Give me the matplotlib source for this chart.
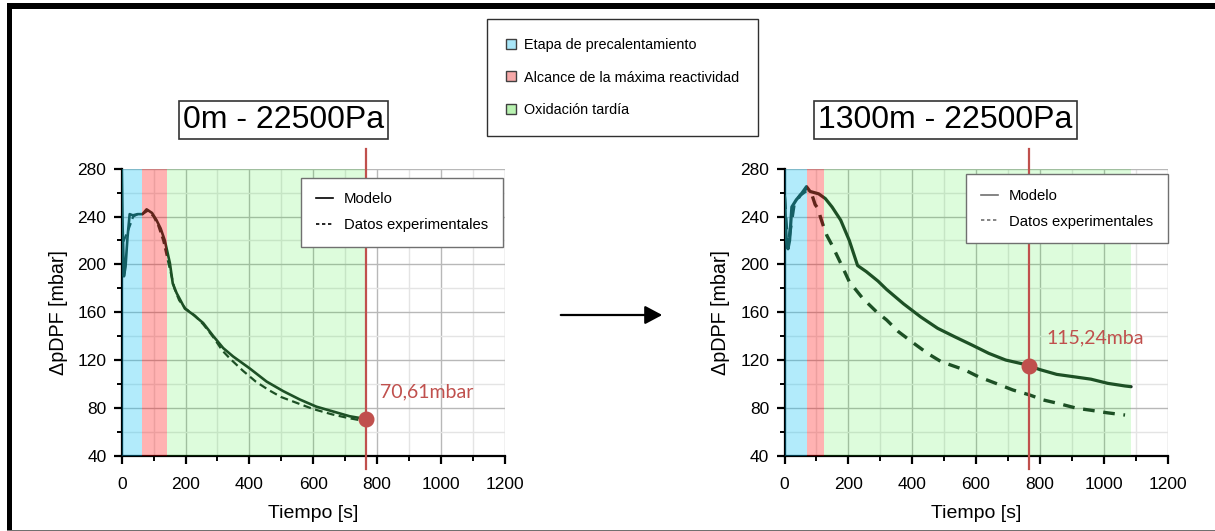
import matplotlib
matplotlib.use('Agg')
import matplotlib.pyplot as plt
from matplotlib.lines import Line2D
from matplotlib.patches import Rectangle, FancyArrowPatch
from matplotlib.ticker import MultipleLocator

plt.rcParams['font.family'] = ['Liberation Sans', 'DejaVu Sans']
LEGFONT = ['Liberation Sans', 'DejaVu Sans']

# ---------------- data ----------------
phase_labels = ['Etapa de precalentamiento', 'Alcance de la máxima reactividad', 'Oxidación tardía']
phase_colors = ['#00c0f5', '#ff0000', '#1ceb16']
phase_alphas = [0.30, 0.30, 0.15]
phase_legend_colors = ['#a8e6f8', '#f6a8a8', '#b8f2b0']

series_labels = ['Modelo', 'Datos experimentales']

left_title = '0m - 22500Pa'
left_phase_edges = [0, 64, 142, 766]
left_model_t = [0, 3, 7, 12, 18, 25, 35, 50, 65, 78, 95, 109, 122, 135, 151, 160, 172, 198,
                224, 255, 287, 318, 349, 401, 454, 506, 558, 610, 662, 714, 766]
left_model_y = [279, 230, 190, 198, 222, 242, 241, 242, 242, 246, 243, 237, 230, 220, 201, 184,
                176, 163, 158, 151, 140, 130, 123, 113, 102, 94, 87, 81, 77, 73, 70.6]
left_exp_t = [5, 21, 36, 50, 65, 82, 100, 115, 130, 143, 152, 165, 180, 200, 230, 255, 270, 290,
              315, 340, 380, 420, 460, 500, 550, 600, 660, 710, 760]
left_exp_y = [219, 229, 240, 242, 242, 245, 240, 232, 220, 205, 195, 180, 170, 163, 157, 150,
              145, 138, 128, 121, 111, 102, 95, 89, 84, 79, 74.5, 71.5, 69]
left_marker_t = 766
left_marker_y = 70.61
left_marker_text = '70,61mbar'

right_title = '1300m - 22500Pa'
right_phase_edges = [0, 70, 125, 1087]
right_model_t = [0, 5, 11, 16, 23, 37, 53, 69, 80, 107, 128, 149, 176, 203, 229, 256, 293, 320,
                 373, 427, 480, 533, 587, 640, 693, 747, 767, 800, 853, 907, 960, 1013, 1067, 1086]
right_model_y = [257, 223, 213, 220, 248, 254, 259, 265, 261, 259, 255, 248, 237, 220, 199, 194,
                 186, 179, 167, 156, 146.5, 139.5, 132.6, 125.6, 120, 116.7, 115.2, 112, 108, 106,
                 104, 100.5, 98.3, 97.7]
right_exp_t = [0, 10, 30, 50, 70, 85, 96, 107, 112, 122, 133, 149, 176, 203, 245, 288, 320, 357,
               405, 448, 491, 565, 608, 677, 715, 768, 811, 853, 917, 960, 1008, 1067]
right_exp_y = [256, 214, 250, 258, 262, 259, 250, 246, 240, 232, 224, 216, 201, 185.5, 171.6,
               160.4, 153.5, 143.7, 134, 125.6, 118.6, 111.7, 106, 99, 95, 90.8, 86.6, 84, 79.6,
               78, 76, 74]
right_marker_t = 767
right_marker_y = 115.24
right_marker_text = '115,24mba'

x_label = 'Tiempo [s]'
y_label = 'ΔpDPF [mbar]'

# ---------------- figure ----------------
W, H = 1215, 531
fig = plt.figure(figsize=(W / 100, H / 100), dpi=100)

LINE = '#1e3628'
RED = '#c0504d'


def fx(px):
    return px / W


def fy(py):
    return 1 - py / H


def panel(left_px, model_t, model_y, exp_t, exp_y, edges, mt, my, mtext, text_xy,
          model_lw, exp_lw, exp_dash, leg_anchor, leg_handle_color, title, title_x):
    ax = fig.add_axes([fx(left_px), fy(455.7), 383.0 / W, 287.0 / H])
    ax.set_xlim(0, 1200)
    ax.set_ylim(40, 280)
    ax.xaxis.set_major_locator(MultipleLocator(200))
    ax.xaxis.set_minor_locator(MultipleLocator(100))
    ax.yaxis.set_major_locator(MultipleLocator(40))
    ax.yaxis.set_minor_locator(MultipleLocator(20))
    ax.grid(which='major', color='#b8b8b8', lw=1.0, zorder=0)
    ax.grid(which='minor', color='#e4e4e4', lw=1.0, zorder=0)
    ax.set_axisbelow(True)
    for s in ['top', 'right']:
        ax.spines[s].set_visible(False)
    for s in ['left', 'bottom']:
        ax.spines[s].set_linewidth(1.6)
        ax.spines[s].set_color('black')
    ax.tick_params(which='major', direction='out', length=6, width=1.6, labelsize=12.5, pad=5)
    ax.tick_params(which='minor', direction='out', length=3.5, width=1.4)
    ax.tick_params(axis='x', which='major', pad=9)

    ax.plot(model_t, model_y, color=LINE, lw=model_lw, zorder=3, solid_capstyle='round')
    ax.plot(exp_t, exp_y, color=LINE, lw=exp_lw, dashes=exp_dash, zorder=3)

    for i in range(3):
        ax.axvspan(edges[i], edges[i + 1], color=phase_colors[i], alpha=phase_alphas[i],
                   lw=0, zorder=4)

    ax.axvline(mt, ymin=-0.045, ymax=1.07, color=RED, lw=1.6, clip_on=False, zorder=6)
    ax.plot([mt], [my], 'o', color=RED, ms=10.5, zorder=7, clip_on=False)
    ax.text(text_xy[0], text_xy[1], mtext, color=RED, fontsize=14, family=['Lato', 'DejaVu Sans'],
            ha='left', va='center', zorder=7)

    ax.set_xlabel(x_label, fontsize=14, labelpad=10)
    ax.set_ylabel(y_label, fontsize=14.2, labelpad=7)

    handles = [Line2D([], [], color=leg_handle_color, lw=1.2),
               Line2D([], [], color=leg_handle_color, lw=1.2, dashes=(2, 1.6))]
    leg = ax.legend(handles, series_labels, loc='upper left', bbox_to_anchor=leg_anchor,
                    borderaxespad=0, fancybox=False, framealpha=1, edgecolor='#707070',
                    prop={'family': LEGFONT, 'size': 10.7}, handlelength=1.1, handletextpad=0.75,
                    borderpad=1.0, labelspacing=0.8)
    leg.get_frame().set_linewidth(1.0)
    leg.set_zorder(10)

    fig.text(fx(title_x), fy(120), title, fontsize=23, ha='center', va='center',
             bbox=dict(boxstyle='square,pad=0.12', fc='white', ec='#333333', lw=1.2))
    return ax


axL = panel(121.7, left_model_t, left_model_y, left_exp_t, left_exp_y, left_phase_edges,
            left_marker_t, left_marker_y, left_marker_text, (808, 93.5), 1.9, 1.6, (3.5, 2.0),
            (0.469, 0.969), 'black', left_title, 283.5)
axR = panel(784.5, right_model_t, right_model_y, right_exp_t, right_exp_y, right_phase_edges,
            right_marker_t, right_marker_y, right_marker_text, (820, 138.5), 2.3, 2.4, (3.5, 2.6),
            (0.475, 0.982), '#707070', right_title, 945.5)

# top phase legend
ph_handles = [Line2D([], [], ls='none', marker='s', ms=6.5, mfc=c, mec='#404040', mew=1.0)
              for c in phase_legend_colors]
top_leg = fig.legend(ph_handles, phase_labels, loc='upper left', bbox_to_anchor=(fx(487), fy(19)),
                     borderaxespad=0, fancybox=False, framealpha=1, edgecolor='#303030',
                     prop={'family': LEGFONT, 'size': 10.4}, handlelength=0.7, handletextpad=0.55,
                     borderpad=1.3, labelspacing=1.3)
top_leg.get_frame().set_linewidth(1.0)

# arrow between panels
fig.add_artist(FancyArrowPatch((fx(558), fy(315)), (fx(665), fy(315)), transform=fig.transFigure,
                               arrowstyle='-|>,head_length=0.75,head_width=0.4', mutation_scale=14,
                               lw=1.6, color='black'))

# outer frame
fig.add_artist(Rectangle((fx(7), fy(9.3)), 1 - fx(7), 6 / H, transform=fig.transFigure,
                         fc='black', ec='none'))
fig.add_artist(Rectangle((fx(6.7), 0), 5.3 / W, fy(3.3), transform=fig.transFigure,
                         fc='black', ec='none'))
fig.add_artist(Rectangle((fx(7), fy(531)), 1 - fx(7), 1.5 / H, transform=fig.transFigure,
                         fc='#707070', ec='none'))

fig.savefig('out.png', dpi=100)
